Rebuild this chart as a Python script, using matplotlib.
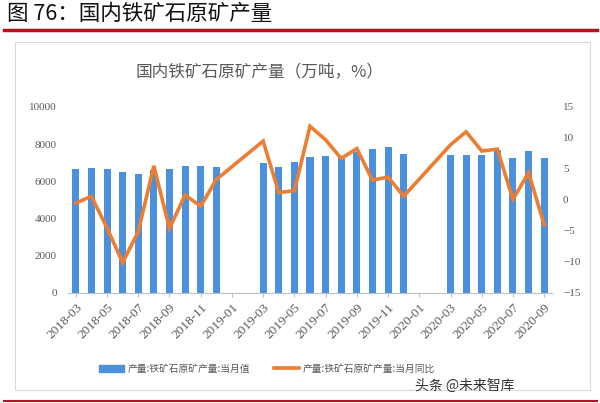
import matplotlib.pyplot as plt
from matplotlib.patches import Rectangle
from matplotlib.lines import Line2D

plt.rcParams['font.family'] = ['Noto Sans CJK SC', 'DejaVu Sans']

#-------------------------------
# DATA
#-------------------------------
months = ["2018-03", "2018-04", "2018-05", "2018-06", "2018-07", "2018-08",
          "2018-09", "2018-10", "2018-11", "2018-12", "2019-01", "2019-02",
          "2019-03", "2019-04", "2019-05", "2019-06", "2019-07", "2019-08",
          "2019-09", "2019-10", "2019-11", "2019-12", "2020-01", "2020-02",
          "2020-03", "2020-04", "2020-05", "2020-06", "2020-07", "2020-08",
          "2020-09"]

# 产量 (万吨), None = no data (Jan/Feb)
output = [6670, 6700, 6670, 6490, 6415, 6600, 6670, 6810, 6810, 6770,
          None, None,
          6970, 6790, 7030, 7290, 7365, 7300, 7600, 7740, 7870, 7455,
          None, None,
          7420, 7420, 7420, 7690, 7240, 7650, 7275]

# 当月同比 (%)
yoy = [-0.5, 0.6, -4.5, -10.1, -5.1, 5.5, -4.6, 0.8, -1.0, 3.3,
       None, None,
       9.5, 1.2, 1.5, 11.9, 9.7, 6.7, 8.3, 3.2, 3.7, 0.6,
       None, None,
       8.9, 11.0, 7.9, 8.2, 0.1, 4.4, -4.0]

bar_label = "产量:铁矿石原矿产量:当月值"
line_label = "产量:铁矿石原矿产量:当月同比"

bar_color = "#4a90dc"
line_color = "#ed7d31"
tick_color = "#595959"

#-------------------------------
# FIGURE
#-------------------------------
fig = plt.figure(figsize=(6, 4.03), dpi=100)
fig.patch.set_facecolor("white")

# header
fig.text(0.012, 0.965, "图 76：国内铁矿石原矿产量", fontsize=15.5, color="#111111",
         va="center", ha="left")
fig.add_artist(Line2D([0.007, 0.995], [0.926, 0.926], color="#b5121b", lw=2.5,
                      transform=fig.transFigure))
fig.add_artist(Line2D([0.007, 0.995], [0.004, 0.004], color="#b5121b", lw=1.5,
                      transform=fig.transFigure))
# chart frame
fig.add_artist(Rectangle((0.025, 0.032), 0.958, 0.864, transform=fig.transFigure,
                         fill=False, edgecolor="#d9d9d9", lw=0.8))

fig.text(0.433, 0.822, "国内铁矿石原矿产量（万吨，%）", fontsize=12, color="#595959",
         ha="center", va="center")

ax = fig.add_axes([0.1133, 0.273, 0.8067, 0.4615])
x = list(range(len(months)))

bx = [i for i, v in zip(x, output) if v is not None]
bv = [v for v in output if v is not None]
ax.bar(bx, bv, width=0.45, color=bar_color)
ax.set_xlim(-0.5, len(months) - 0.5)
ax.set_ylim(0, 10000)
ax.set_yticks(range(0, 10001, 2000))

for s in ["top", "left", "right"]:
    ax.spines[s].set_visible(False)
ax.spines["bottom"].set_color("#bfbfbf")
ax.tick_params(axis="y", length=0, labelsize=8, labelcolor=tick_color, pad=8)
ax.set_xticks(x[::2])
ax.set_xticklabels(months[::2], rotation=45, ha="right", rotation_mode="anchor",
                   fontsize=9.5, color=tick_color, family="Liberation Serif")
ax.tick_params(axis="x", length=3, color="#bfbfbf", pad=3)
for lab in ax.get_yticklabels():
    lab.set_family("Liberation Serif")

ax2 = ax.twinx()
lx = [i for i, v in zip(x, yoy) if v is not None]
lv = [v for v in yoy if v is not None]
ax2.plot(lx, lv, color=line_color, lw=2.6, solid_joinstyle="miter")
ax2.set_ylim(-15, 15)
ax2.set_yticks(range(-15, 16, 5))
for s in ["top", "left", "right", "bottom"]:
    ax2.spines[s].set_visible(False)
ax2.tick_params(axis="y", length=0, labelsize=8, labelcolor=tick_color, pad=8)
for lab in ax2.get_yticklabels():
    lab.set_family("Liberation Serif")

# legend
handles = [Rectangle((0, 0), 1, 1, color=bar_color),
           Line2D([0], [0], color=line_color, lw=2.6)]
fig.legend(handles, [bar_label, line_label], loc="center", ncol=2,
           bbox_to_anchor=(0.445, 0.085), frameon=False, fontsize=7,
           labelcolor="#595959", handlelength=2.5, columnspacing=2.5,
           handletextpad=0.4)

fig.text(0.857, 0.043, "头条 @未来智库", fontsize=10, color="#333333",
         ha="right", va="center")

fig.savefig("out.png", dpi=100)
